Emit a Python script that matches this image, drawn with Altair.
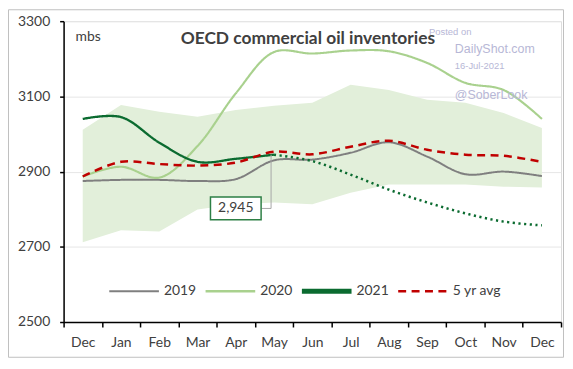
import altair as alt
import pandas as pd

months = ["Dec", "Jan", "Feb", "Mar", "Apr", "May", "Jun", "Jul", "Aug", "Sep", "Oct", "Nov", "Dec"]
idx = list(range(13))

y2019 = [2875, 2878, 2878, 2875, 2880, 2930, 2932, 2950, 2978, 2940, 2893, 2900, 2888]
y2020 = [2887, 2913, 2884, 2968, 3108, 3218, 3214, 3222, 3220, 3189, 3136, 3117, 3040]
y2021 = [3040, 3045, 2977, 2926, 2934, 2945]
y2021_proj = [2945, 2928, 2892, 2852, 2818, 2789, 2767, 2757]
avg5 = [2887, 2926, 2920, 2916, 2924, 2953, 2946, 2966, 2982, 2958, 2945, 2942, 2926]
range_hi = [3011, 3077, 3059, 3046, 3064, 3075, 3083, 3131, 3117, 3091, 3083, 3056, 3016]
range_lo = [2712, 2744, 2741, 2799, 2813, 2818, 2813, 2844, 2866, 2866, 2866, 2860, 2858]

series_names = ["2019", "2020", "2021", "5 yr avg"]
series_colors = ["#7f7f7f", "#a9d18e", "#0b6b30", "#c00000"]
series_widths = [2, 2.5, 5, 2.5]
series_dash = [[1, 0], [1, 0], [1, 0], [8, 5.5]]


def bar_path(h):
    return "M-1,-%g L1,-%g L1,%g L-1,%g Z" % (h, h, h, h)


dash_path = " ".join(
    "M%g,-0.05 L%g,-0.05 L%g,0.05 L%g,0.05 Z" % (a, b, b, a)
    for a, b in [(-1, -0.68), (-0.46, -0.14), (0.08, 0.40), (0.62, 0.94)]
)
legend_shapes = [bar_path(0.04), bar_path(0.05), bar_path(0.1), dash_path]

annot_value = 2945
annot_label = "2,945"
annot_pos = 2802

rows = []
for name, vals in [("2019", y2019), ("2020", y2020), ("2021", y2021), ("5 yr avg", avg5)]:
    for i, v in enumerate(vals):
        rows.append({"m": i, "v": v, "s": name})
lines_df = pd.DataFrame(rows)
proj_df = pd.DataFrame({"m": list(range(5, 13)), "v": y2021_proj})
band_df = pd.DataFrame({"m": idx, "lo": range_lo, "hi": range_hi})

label_expr = "[" + ",".join("'%s'" % m for m in months) + "][datum.value]"
xscale = alt.Scale(type="band", domain=idx, paddingInner=0, paddingOuter=0)
xaxis = alt.Axis(title=None, labelExpr=label_expr, tickBand="extent", domainColor="#000000",
                 domainWidth=1.5, tickColor="#000000", tickWidth=1.5, tickSize=5, labelPadding=9,
                 labelFont="Lato", labelFontSize=14, labelColor="#404040", grid=False, labelAngle=0)
yscale = alt.Scale(domain=[2500, 3300], nice=False, zero=False)
yaxis = alt.Axis(title=None, values=[2500, 2700, 2900, 3100, 3300], format="d", domainColor="#000000",
                 domainWidth=1.5, tickColor="#000000", tickWidth=1.5, tickSize=4, labelPadding=10,
                 labelFont="Lato", labelFontSize=14, labelColor="#404040", grid=True,
                 gridColor="#e6e6e6", gridWidth=1)

X = alt.X("m:O", scale=xscale, axis=xaxis, bandPosition=0.5)

band = alt.Chart(band_df).mark_area(color="#e2efda", opacity=1).encode(
    x=X,
    y=alt.Y("lo:Q", scale=yscale, axis=yaxis),
    y2="hi:Q",
)

lines = alt.Chart(lines_df).mark_line(interpolate="catmull-rom").encode(
    x=X,
    y=alt.Y("v:Q", scale=yscale, axis=yaxis),
    color=alt.Color("s:N", scale=alt.Scale(domain=series_names, range=series_colors), legend=None),
    strokeWidth=alt.StrokeWidth("s:N", scale=alt.Scale(domain=series_names, range=series_widths),
                                legend=None),
    strokeDash=alt.StrokeDash("s:N", scale=alt.Scale(domain=series_names, range=series_dash),
                              legend=None),
    order=alt.Order("s:N"),
)

legend_def = alt.Legend(title=None, orient="none", direction="horizontal", columns=4,
                        legendX=46, legendY=247, symbolSize=2500, labelFont="Lato",
                        labelFontSize=14, labelColor="#404040", labelOffset=5,
                        columnPadding=9, padding=0, symbolStrokeWidth=0)
legend_layer = alt.Chart(lines_df).transform_filter("false").mark_point(
    filled=True, size=2500, opacity=1).encode(
    x=X,
    y=alt.Y("v:Q", scale=yscale),
    color=alt.Color("s:N", scale=alt.Scale(domain=series_names, range=series_colors), legend=legend_def),
    shape=alt.Shape("s:N", scale=alt.Scale(domain=series_names, range=legend_shapes), legend=legend_def),
)

proj = alt.Chart(proj_df).mark_line(interpolate="catmull-rom", color="#0b6b30", strokeWidth=2.5,
                                    strokeDash=[2.2, 3.5]).encode(
    x=X, y=alt.Y("v:Q", scale=yscale)
)

lead_h = alt.Chart(pd.DataFrame({"m": [4], "m2": [5], "v": [annot_pos]})).mark_rule(
    color="#a6a6a6", strokeWidth=1, xOffset=26, x2Offset=-3).encode(
    x=X, x2=alt.X2("m2", bandPosition=0.5), y=alt.Y("v:Q", scale=yscale)
)
lead_v = alt.Chart(pd.DataFrame({"m": [5], "v": [annot_pos], "v2": [annot_value]})).mark_rule(
    color="#a6a6a6", strokeWidth=1, xOffset=-3).encode(
    x=X, y=alt.Y("v:Q", scale=yscale), y2="v2:Q"
)
annot_df = pd.DataFrame({"m": [4], "v": [annot_pos], "t": [annot_label]})
box = alt.Chart(annot_df).mark_point(shape="M-1,-0.45L1,-0.45L1,0.45L-1,0.45Z", size=2601,
                                     filled=True, fill="white", stroke="#2d7f45", strokeWidth=1.5,
                                     opacity=1).encode(
    x=X, y=alt.Y("v:Q", scale=yscale)
)
box_text = alt.Chart(annot_df).mark_text(font="Lato", fontSize=14, color="#404040").encode(
    x=X, y=alt.Y("v:Q", scale=yscale), text="t:N"
)

one = pd.DataFrame({"k": [0]})
title = alt.Chart(one).mark_text(text="OECD commercial oil inventories", font="Lato", fontSize=17.5,
                                 fontWeight="bold", color="#404040", align="center",
                                 baseline="alphabetic").encode(x=alt.value(246), y=alt.value(23))
unit = alt.Chart(one).mark_text(text="mbs", font="Lato", fontSize=14, color="#404040",
                                align="left", baseline="alphabetic").encode(x=alt.value(12), y=alt.value(20))
wm_col = "#b7b7d6"
wm1 = alt.Chart(one).mark_text(text="Posted on", font="Liberation Sans", fontSize=9.5, color=wm_col,
                               align="left", baseline="alphabetic").encode(x=alt.value(368), y=alt.value(14))
wm2 = alt.Chart(one).mark_text(text="DailyShot.com", font="Liberation Sans", fontSize=12.5, color=wm_col,
                               align="left", baseline="alphabetic").encode(x=alt.value(394), y=alt.value(32))
wm3 = alt.Chart(one).mark_text(text="16-Jul-2021", font="Liberation Sans", fontSize=9.5, color=wm_col,
                               align="left", baseline="alphabetic").encode(x=alt.value(394), y=alt.value(48))
wm4 = alt.Chart(one).mark_text(text="@SoberLook", font="Liberation Sans", fontSize=12.5, color=wm_col,
                               align="left", baseline="alphabetic").encode(x=alt.value(394), y=alt.value(78))
border = alt.Chart(one).mark_rect(fillOpacity=0, stroke="#c0c0c0", strokeWidth=1).encode(
    x=alt.value(-55.5), x2=alt.value(503.5), y=alt.value(-11.5), y2=alt.value(338.5)
)

chart = alt.layer(
    band, lines, legend_layer, proj, lead_h, lead_v, box, box_text, title, unit, wm1, wm2, wm3, wm4, border
).resolve_scale(color="independent", shape="independent").properties(
    width=501, height=303,
    padding={"left": 56, "top": 12, "right": 4, "bottom": 40},
    autosize=alt.AutoSizeParams(type="none"),
).configure_view(stroke="#d9d9d9").configure(background="white")

chart.save("out.html", embed_options={"renderer": "svg", "actions": False})
